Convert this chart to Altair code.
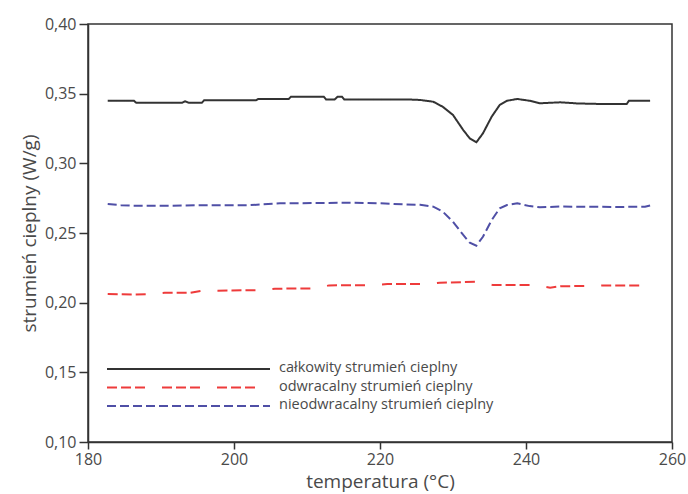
import altair as alt
import pandas as pd

# całkowity strumień cieplny (black)
t_total = [182.7, 186.3, 186.6, 192.9, 193.3, 193.8, 195.6, 195.9, 203.0, 203.3, 207.5, 207.8,
           212.3, 212.6, 213.8, 214.2, 214.8, 215.1, 223.4, 225.5, 227.3, 228.6, 230.0, 231.4,
           232.3, 233.2, 234.1, 235.3, 236.4, 237.4, 238.8, 240.5, 241.9, 244.7, 247.0, 250.1,
           253.8, 254.1, 257.0]
v_total = [0.3449, 0.3449, 0.3435, 0.3435, 0.3445, 0.3435, 0.3435, 0.3452, 0.3452, 0.3462, 0.3462, 0.3478,
           0.3478, 0.3459, 0.3459, 0.3478, 0.3478, 0.3459, 0.3459, 0.3455, 0.3442, 0.3406, 0.3347, 0.3239,
           0.3179, 0.3151, 0.3215, 0.3335, 0.3419, 0.3449, 0.3462, 0.3449, 0.3431, 0.3438, 0.3430, 0.3426,
           0.3426, 0.3449, 0.3449]

# odwracalny strumień cieplny (red)
t_rev = [182.7, 186.0, 188.5, 190.5, 194.0, 195.5, 204.0, 205.6, 211.4, 213.0, 219.0, 221.0,
         226.4, 228.2, 233.3, 235.5, 241.5, 243.3, 244.7, 249.2, 250.5, 256.6]
v_rev = [0.2062, 0.2058, 0.2062, 0.2071, 0.2071, 0.2085, 0.2090, 0.2100, 0.2103, 0.2124, 0.2126, 0.2134,
         0.2134, 0.2143, 0.2150, 0.2126, 0.2126, 0.2108, 0.2118, 0.2120, 0.2124, 0.2124]

# nieodwracalny strumień cieplny (blue)
t_irr = [182.7, 184.5, 186.2, 191.2, 195.3, 202.2, 206.3, 215.9, 220.0, 223.4, 225.5, 227.3,
         228.6, 230.0, 231.4, 232.3, 233.2, 234.1, 235.3, 236.4, 237.4, 238.8, 240.5, 241.9,
         244.7, 247.0, 253.0, 256.3, 257.0]
v_irr = [0.2708, 0.2700, 0.2696, 0.2696, 0.2700, 0.2700, 0.2713, 0.2717, 0.2713, 0.2705, 0.2703, 0.2689,
         0.2653, 0.2581, 0.2486, 0.2430, 0.2409, 0.2473, 0.2593, 0.2677, 0.2701, 0.2713, 0.2693, 0.2684,
         0.2690, 0.2689, 0.2687, 0.2689, 0.2698]

series = ["całkowity strumień cieplny", "odwracalny strumień cieplny", "nieodwracalny strumień cieplny"]
colors = ["#333333", "#ee3b3b", "#4f4fa6"]
dashes = [[1, 0], [10, 4, 10, 4, 10, 17], [9, 4]]

rows = []
for name, ts, vs in zip(series, [t_total, t_rev, t_irr], [v_total, v_rev, v_irr]):
    for i, (t, v) in enumerate(zip(ts, vs)):
        rows.append({"seria": name, "T": t, "q": v, "i": i})
df = pd.DataFrame(rows)
legend_df = pd.DataFrame({"seria": series, "row": [0, 1, 2]})

FONT = "Open Sans"
TXT = "#4a4a4a"

color_enc = alt.Color("seria:N", scale=alt.Scale(domain=series, range=colors), legend=None)
dash_enc = alt.StrokeDash("seria:N", scale=alt.Scale(domain=series, range=dashes), legend=None)

lines = alt.Chart(df).mark_line(strokeWidth=2).encode(
    x=alt.X("T:Q", scale=alt.Scale(domain=[180, 260], nice=False),
            axis=alt.Axis(values=[180, 200, 220, 240, 260], title="temperatura (°C)",
                          grid=False, tickSize=7, labelPadding=2, titlePadding=5,
                          labelFlush=False)),
    y=alt.Y("q:Q", scale=alt.Scale(domain=[0.10, 0.40], nice=False, zero=False),
            axis=alt.Axis(values=[0.10, 0.15, 0.20, 0.25, 0.30, 0.35, 0.40],
                          labelExpr="replace(format(datum.value, '.2f'), '.', ',')",
                          title="strumień cieplny (W/g)", grid=False, tickSize=9,
                          labelPadding=3, titlePadding=5, labelFlush=False)),
    color=color_enc,
    strokeDash=dash_enc,
    order="i:Q",
)

ly = alt.Y("row:Q", scale=alt.Scale(domain=[0, 2], range=[345, 382]), axis=None)

leg_lines = alt.Chart(legend_df).mark_rule(strokeWidth=2).encode(
    x=alt.value(19), x2=alt.value(182), y=ly,
    color=color_enc, strokeDash=dash_enc,
)
leg_text = alt.Chart(legend_df).mark_text(
    align="left", baseline="middle", font=FONT, fontSize=14.5, color=TXT, dy=-1
).encode(x=alt.value(191), y=ly, text="seria:N")

chart = alt.layer(lines, leg_lines, leg_text).resolve_scale(y="independent").properties(
    width=584, height=418,
    autosize=alt.AutoSizeParams(type="none"),
    padding={"left": 88, "top": 24, "right": 16, "bottom": 52},
).configure_view(
    stroke="#333333", strokeWidth=1.5
).configure_axis(
    domainColor="#333333", domainWidth=1.5, tickColor="#333333", tickWidth=1.5,
    labelFont=FONT, labelFontSize=16, labelColor=TXT,
    titleFont=FONT, titleFontSize=19, titleColor=TXT, titleFontWeight="normal",
)

chart.save("out.html", embed_options={"renderer": "svg", "actions": False})
